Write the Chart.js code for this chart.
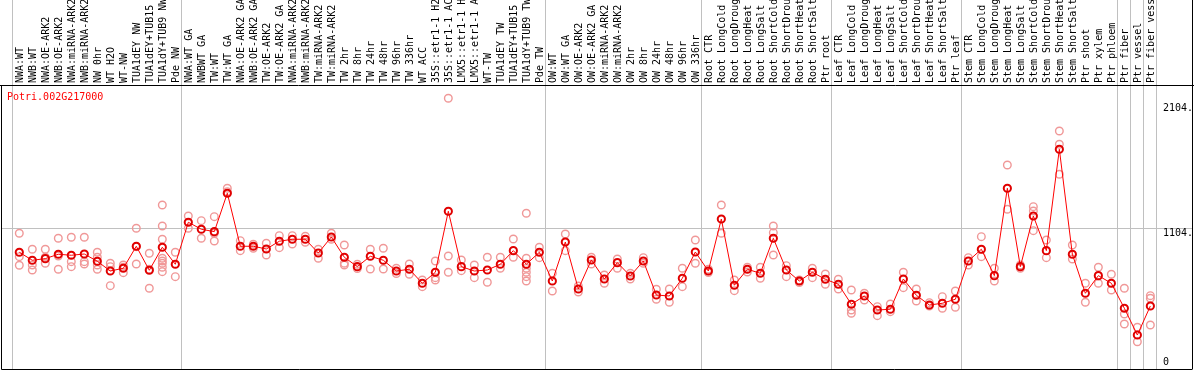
<!DOCTYPE html>
<html>
<head>
<meta charset="utf-8">
<script src="https://cdn.jsdelivr.net/npm/chart.js@4/dist/chart.umd.min.js"></script>
<style>
  body { margin: 0; background: #fff; }
  canvas { display: block; }
</style>
</head>
<body>
<canvas id="expr" width="1194" height="370"></canvas>
<script>
const geneId = 'Potri.002G217000';

const samples = [
  'NWA:WT', 'NWB:WT', 'NWA:OE-ARK2', 'NWB:OE-ARK2', 'NWA:miRNA-ARK2', 'NWB:miRNA-ARK2', 'NW 0hr', 'WT H2O', 'WT-NW',
  'TUA1dEY NW', 'TUA1dEY+TUB15 NW', 'TUA1dY+TUB9 NW', 'Pde NW',
  'NWA:WT GA', 'NWBWT GA', 'TW:WT', 'TW:WT GA', 'NWA:OE-ARK2 GA', 'NWB:OE-ARK2 GA', 'TW:OE-ARK2', 'TW:OE-ARK2 GA',
  'NWA:miRNA-ARK2', 'NWB:miRNA-ARK2', 'TW:miRNA-ARK2', 'TW:miRNA-ARK2', 'TW 2hr', 'TW 8hr', 'TW 24hr', 'TW 48hr',
  'TW 96hr', 'TW 336hr', 'WT ACC', '35S::etr1-1 H2O', '35S::etr1-1 ACC', 'LMX5::etr1-1 H2O', 'LMX5::etr1-1 ACC',
  'WT-TW', 'TUA1dEY TW', 'TUA1dEY+TUB15 TW', 'TUA1dY+TUB9 TW', 'Pde TW',
  'OW:WT', 'OW:WT GA', 'OW:OE-ARK2', 'OW:OE-ARK2 GA', 'OW:miRNA-ARK2', 'OW:miRNA-ARK2', 'OW 2hr', 'OW 8hr',
  'OW 24hr', 'OW 48hr', 'OW 96hr', 'OW 336hr',
  'Root CTR', 'Root LongCold', 'Root LongDrought', 'Root LongHeat', 'Root LongSalt', 'Root ShortCold',
  'Root ShortDrought', 'Root ShortHeat', 'Root ShortSalt', 'Ptr root',
  'Leaf CTR', 'Leaf LongCold', 'Leaf LongDrought', 'Leaf LongHeat', 'Leaf LongSalt', 'Leaf ShortCold',
  'Leaf ShortDrought', 'Leaf ShortHeat', 'Leaf ShortSalt', 'Ptr leaf',
  'Stem CTR', 'Stem LongCold', 'Stem LongDrought', 'Stem LongHeat', 'Stem LongSalt', 'Stem ShortCold',
  'Stem ShortDrought', 'Stem ShortHeat', 'Stem ShortSalt', 'Ptr shoot', 'Ptr xylem', 'Ptr phloem', 'Ptr fiber',
  'Ptr vessel', 'Ptr fiber vessel'
];

// mean expression per sample
const means = [
  912, 848, 861, 896, 888, 898, 840, 762, 784, 960, 768, 952, 816,
  1152, 1096, 1077, 1384, 960, 960, 938, 1000, 1016, 1016, 906, 1034, 872, 797, 880, 848,
  762, 776, 664, 752, 1240, 797, 762, 770, 816, 925, 816, 912,
  682, 994, 618, 850, 698, 829, 722, 842, 570, 562, 704, 914,
  762, 1178, 648, 776, 744, 1024, 770, 682, 752, 696,
  656, 496, 562, 450, 456, 698, 568, 490, 504, 536,
  842, 936, 725, 1424, 797, 1202, 925, 1736, 896, 584, 725, 664, 464, 250, 482
];

// individual replicates per sample
const replicates = [
  [1064, 877, 808], [936, 810, 770], [936, 872, 824], [1024, 882, 776], [1032, 837, 797], [1032, 837, 818],
  [912, 872, 810, 776], [824, 797, 645], [810, 792, 749], [1104, 957, 818], [904, 776, 624],
  [1290, 1122, 1016, 864, 842, 824, 792, 757], [912, 717],
  [1202, 1104], [1165, 1024], [1197, 1064, 1002], [1424, 1397], [1005, 925], [976, 944], [984, 890],
  [1045, 949], [1045, 978], [1040, 992], [936, 864], [1064, 1016], [970, 824, 810], [816, 782], [936, 778],
  [944, 778], [784, 742], [818, 736], [690, 637], [842, 709, 690], [2144, 882, 752], [850, 765], [810, 709],
  [872, 672], [872, 784], [1018, 872], [1224, 864, 784, 752, 717, 682], [952, 869],
  [744, 602], [1058, 925], [642, 594], [872, 818], [730, 664], [858, 784], [744, 698], [869, 824],
  [616, 536], [618, 512], [784, 637], [1010, 824],
  [776, 750], [1290, 1064], [690, 605], [792, 754], [792, 704], [1122, 1069, 890], [805, 717], [690, 670],
  [784, 709], [738, 656],
  [696, 618], [610, 450, 424], [584, 530], [477, 405], [498, 437], [752, 629], [618, 522], [509, 482],
  [557, 464], [602, 472],
  [869, 810], [1037, 877], [784, 682], [1610, 1256], [810, 784], [1277, 1242, 1085], [1010, 869],
  [1882, 1776, 1536], [970, 858], [664, 512], [792, 664], [736, 610], [624, 418, 338], [312, 196], [565, 544, 330]
];

const yTicks = [0, 1104, 2104];
const yTickLabels = ['0', '1104.', '2104.'];
const gridValue = 1104;
// sample index after which a separator line is drawn
const groupEnds = [-1, 12, 40, 52, 62, 72, 84, 85, 86, 87];

const FONT = '10px "DejaVu Sans Mono", monospace';

const decor = {
  id: 'decor',
  beforeDatasetsDraw(chart) {
    const { ctx, chartArea: a, scales: { x, y } } = chart;
    ctx.save();
    ctx.strokeStyle = '#c0c0c0';
    ctx.lineWidth = 1;
    const gy = Math.round(y.getPixelForValue(gridValue)) + 0.5;
    ctx.beginPath();
    ctx.moveTo(a.left, gy);
    ctx.lineTo(a.right, gy);
    ctx.stroke();
    groupEnds.concat([samples.length - 1]).forEach(k => {
      const px = Math.round(x.getPixelForValue(k + 0.4)) + 0.5;
      ctx.beginPath();
      ctx.moveTo(px, 0);
      ctx.lineTo(px, a.bottom);
      ctx.stroke();
    });
    ctx.restore();
  },
  afterDraw(chart) {
    const { ctx, chartArea: a, scales: { x, y } } = chart;
    ctx.save();
    ctx.strokeStyle = '#000';
    ctx.lineWidth = 1;
    ctx.beginPath();
    ctx.moveTo(0, a.top + 0.5);
    ctx.lineTo(chart.width, a.top + 0.5);
    ctx.moveTo(a.left + 0.5, a.top);
    ctx.lineTo(a.left + 0.5, a.bottom + 0.5);
    ctx.lineTo(a.right - 0.5, a.bottom + 0.5);
    ctx.moveTo(a.right - 0.5, 0);
    ctx.lineTo(a.right - 0.5, a.bottom);
    ctx.stroke();

    ctx.font = FONT;
    ctx.fillStyle = '#000';
    // sample names, rotated
    samples.forEach((s, k) => {
      ctx.save();
      ctx.translate(x.getPixelForValue(k) + 3.5, a.top - 2);
      ctx.rotate(-Math.PI / 2);
      ctx.textAlign = 'left';
      ctx.textBaseline = 'alphabetic';
      ctx.fillText(s, 0, 0);
      ctx.restore();
    });

    // value labels on the right
    ctx.textAlign = 'left';
    yTicks.forEach((v, i) => {
      const py = y.getPixelForValue(v);
      ctx.textBaseline = v === 0 ? 'bottom' : 'top';
      ctx.fillText(yTickLabels[i], 1163, v === 0 ? py + 1 : py);
    });

    ctx.fillStyle = '#ff0000';
    ctx.textBaseline = 'middle';
    ctx.fillText(geneId, 7, 97);
    ctx.restore();
  }
};

const repPoints = [];
replicates.forEach((r, k) => r.forEach(v => repPoints.push({ x: k, y: v })));

new Chart(document.getElementById('expr'), {
  type: 'line',
  data: {
    datasets: [
      {
        label: geneId,
        data: means.map((v, k) => ({ x: k, y: v })),
        borderColor: '#ff0000',
        borderWidth: 1,
        pointRadius: 3.6,
        pointBorderWidth: 2,
        pointBorderColor: '#e00000',
        pointBackgroundColor: 'rgba(0,0,0,0)',
        tension: 0,
        order: 0
      },
      {
        type: 'scatter',
        label: 'replicates',
        data: repPoints,
        showLine: false,
        pointRadius: 3.8,
        pointBorderWidth: 1.4,
        pointBorderColor: '#f09898',
        pointBackgroundColor: 'rgba(0,0,0,0)',
        order: 1
      }
    ]
  },
  options: {
    responsive: false,
    animation: false,
    devicePixelRatio: 1,
    layout: { autoPadding: false, padding: { left: 1, right: 1, top: 85, bottom: 1 } },
    plugins: { legend: { display: false }, tooltip: { enabled: false } },
    scales: {
      x: { type: 'linear', min: -1.408, max: 90.28, display: false },
      y: { type: 'linear', min: -22, max: 2250, display: false }
    }
  },
  plugins: [decor]
});
</script>
</body>
</html>
